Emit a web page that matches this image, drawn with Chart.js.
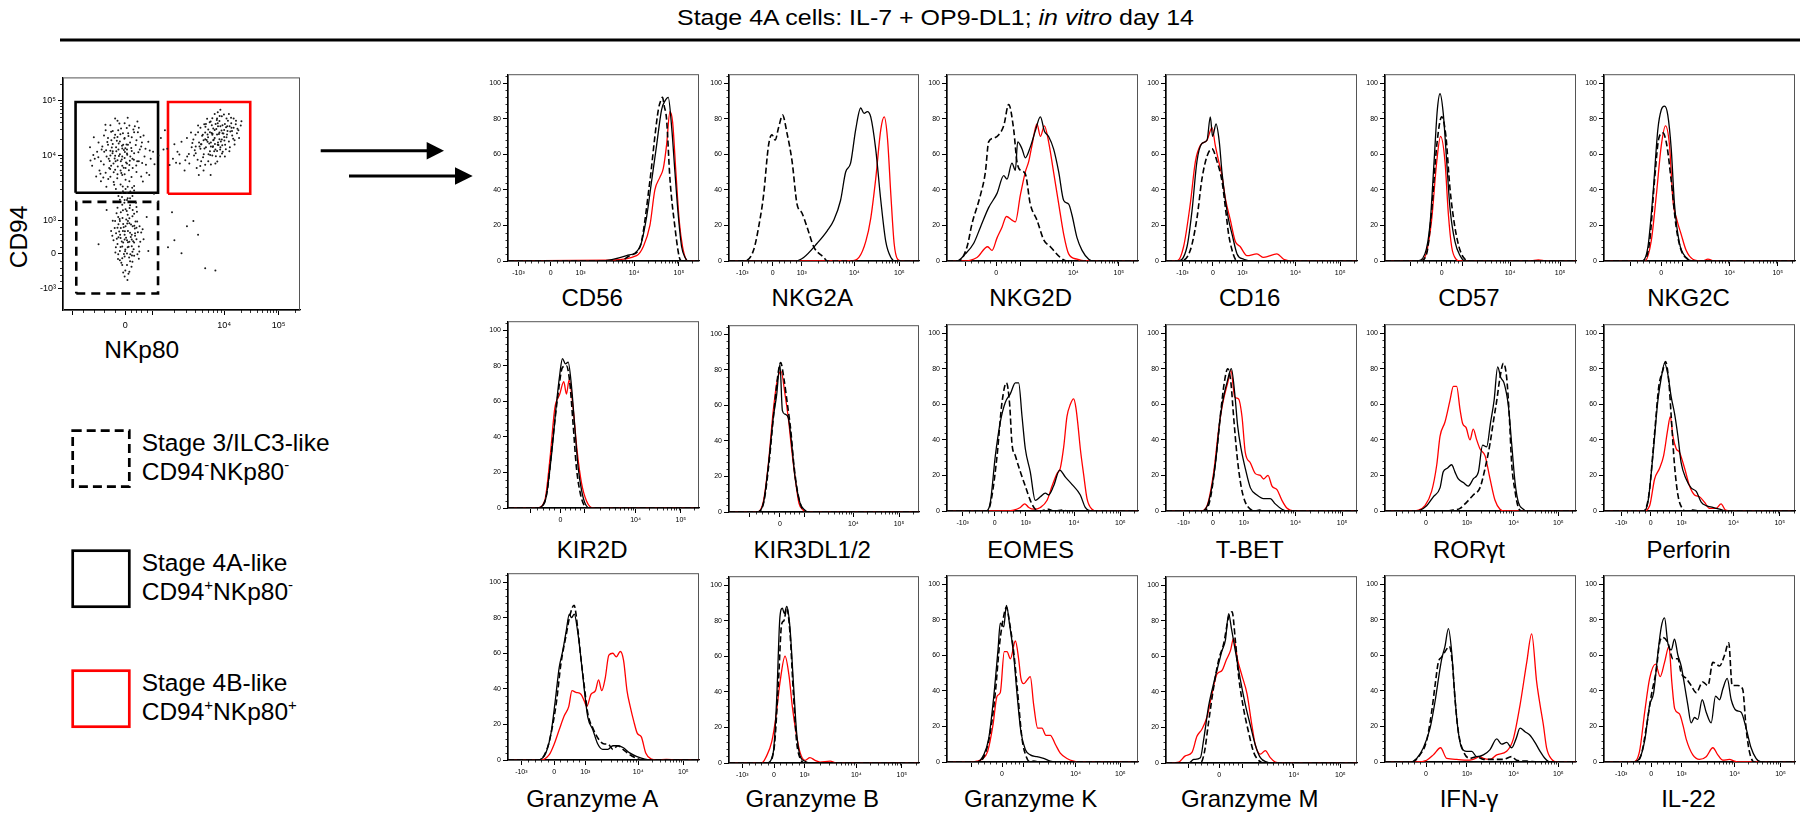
<!DOCTYPE html>
<html>
<head>
<meta charset="utf-8">
<script src="https://cdn.jsdelivr.net/npm/chart.js@4.4.0/dist/chart.umd.min.js"></script>
<style>
  body { margin: 0; width: 1800px; height: 817px; background: #fff; position: relative; overflow: hidden;
         font-family: "Liberation Sans", Arial, sans-serif; }
  canvas { position: absolute; }
  #deco { position: absolute; left: 0; top: 0; }
</style>
</head>
<body>
<svg id="deco" width="1800" height="817" font-family="Liberation Sans, Arial, sans-serif">
  <text x="935.5" y="25" text-anchor="middle" font-size="22" textLength="517" lengthAdjust="spacingAndGlyphs">Stage 4A cells: IL-7 + OP9-DL1; <tspan font-style="italic">in vitro</tspan> day 14</text>
  <rect x="60" y="38.5" width="1740" height="3" fill="#000"/>

  <!-- arrows -->
  <line x1="320.7" y1="150.7" x2="428" y2="150.7" stroke="#000" stroke-width="3"/>
  <polygon points="426.7,141.9 444,150.7 426.7,159.5" fill="#000"/>
  <line x1="349" y1="176" x2="456" y2="176" stroke="#000" stroke-width="3"/>
  <polygon points="455,167.2 472.7,176 455,184.8" fill="#000"/>

  <!-- legend -->
  <rect x="72.7" y="430.7" width="56.6" height="56" fill="none" stroke="#000" stroke-width="2.7" stroke-dasharray="9 5"/>
  <rect x="72.7" y="550.7" width="56.6" height="56" fill="none" stroke="#000" stroke-width="2.7"/>
  <rect x="72.7" y="670.7" width="56.6" height="56" fill="none" stroke="#ff0000" stroke-width="2.7"/>
  <g font-size="24.5">
    <text x="141.7" y="450.7">Stage 3/ILC3-like</text>
    <text x="141.7" y="480">CD94<tspan font-size="15" dy="-10">-</tspan><tspan dy="10">NKp80</tspan><tspan font-size="15" dy="-10">-</tspan></text>
    <text x="141.7" y="570.7">Stage 4A-like</text>
    <text x="141.7" y="600">CD94<tspan font-size="15" dy="-10">+</tspan><tspan dy="10">NKp80</tspan><tspan font-size="15" dy="-10">-</tspan></text>
    <text x="141.7" y="690.7">Stage 4B-like</text>
    <text x="141.7" y="720">CD94<tspan font-size="15" dy="-10">+</tspan><tspan dy="10">NKp80</tspan><tspan font-size="15" dy="-10">+</tspan></text>
  </g>

  <!-- scatter axis titles -->
  <text transform="translate(26.7,237) rotate(-90)" text-anchor="middle" font-size="24.5">CD94</text>
  <text x="141.7" y="358" text-anchor="middle" font-size="24.5">NKp80</text>
  <g id="panelLabels" font-size="24" text-anchor="middle"></g>
</svg>

<script>
// ---------- data ----------
const markers = ['CD56', 'NKG2A', 'NKG2D', 'CD16', 'CD57', 'NKG2C',
                 'KIR2D', 'KIR3DL1/2', 'EOMES', 'T-BET', 'RORγt', 'Perforin',
                 'Granzyme A', 'Granzyme B', 'Granzyme K', 'Granzyme M', 'IFN-γ', 'IL-22'];

// x is position across the biexponential axis (0-100), y is % of max
const cd56Dash  = [[0,0],[58.6,0],[63.8,3],[69.1,8],[74.3,45],[76.9,70],[78.7,85],[79.9,90],[80.9,92],[81.8,87],[83,80],[84.8,46],[87.4,19],[89.7,2],[90.9,0],[100,0]];
const cd56Black = [[0,0],[48.1,0],[62.1,3],[69.1,8],[72.6,25],[75.2,45],[77.8,65],[80.4,85],[82.2,90],[83.9,92],[85.7,75],[87.4,50],[89.2,25],[90.9,8],[92.7,2],[94.4,0],[100,0]];
const cd56Red   = [[0,0],[53.3,0.5],[67.3,3],[70.8,8],[74.3,20],[76.9,40],[79.5,47],[81.3,52],[83,65],[84.8,84],[86.2,78],[87.9,50],[89.7,22],[91.4,8],[93.2,1],[94.4,0],[100,0]];

const nkg2aDash  = [[0,0],[7.6,0],[12.9,6],[16.4,24],[18.2,37],[20.8,65],[22.6,71],[24.3,68],[26.1,75],[28.2,82],[30.5,72],[33.2,56],[35.8,32],[38.4,27],[41.1,19],[44.6,8],[49.9,2],[51.7,0],[100,0]];
const nkg2aBlack = [[0,0],[34.9,0],[39.3,2],[46.4,10],[51.7,17],[55.2,23],[58.7,34],[61.4,50],[64,55],[66.7,74],[69.3,86],[71.1,83],[72.8,84],[74.6,81],[77.2,63],[79.9,34],[82.5,11],[85.2,2],[87.8,0],[100,0]];
const nkg2aRed   = [[0,0],[64,0],[68.4,2],[72,11],[74.6,24],[77.2,46],[79.9,74],[81.7,81],[83.4,69],[85.2,37],[86.9,10],[88.7,1],[90.5,0],[100,0]];

const nkg2dDash  = [[0,0],[6.1,0],[10.5,8],[13.1,21],[17.5,37],[20.1,50],[21.8,67],[24.4,69],[27.1,71],[29.7,76],[32.3,88],[34.9,74],[36.6,56],[38.4,51],[41,49],[43.6,32],[47.1,23],[50.6,12],[54.1,8],[59.3,2],[62.8,0],[100,0]];
const nkg2dBlack = [[0,0],[5.2,0],[9.6,4],[14,10],[17.5,19],[21.8,30],[26.2,38],[29.7,48],[31.4,46],[34,55],[35.8,51],[37,67],[39.3,63],[41,58],[43.6,64],[46.2,73],[48.9,81],[51,73],[53.2,70],[55.8,63],[58.5,50],[61.1,34],[63.7,32],[65.4,26],[68.1,13],[70.7,6],[74.2,1],[76.8,0],[100,0]];
const nkg2dRed   = [[0,0],[8.7,0],[15.7,2],[21.3,8],[23.6,6],[26.2,13],[28.8,19],[31.1,25],[34,23],[35.8,22],[38.4,37],[41,50],[42.8,56],[44.5,65],[47.1,77],[48.9,70],[51,76],[53.2,67],[55.8,50],[58.5,32],[61.1,15],[63.7,4],[68.1,1],[72.4,0],[100,0]];

const cd16Dash  = [[0,0],[7.5,0],[12.7,6],[16.2,24],[18.8,46],[21.5,59],[24.1,63],[26.7,56],[29.3,45],[31.1,30],[32.8,15],[34.6,6],[36.3,1],[38,0],[100,0]];
const cd16Black = [[0,0],[5.8,0],[11,8],[13.6,28],[16.2,56],[18.8,66],[21.5,68],[23.2,81],[24.4,70],[26.2,77],[27.9,67],[29.3,50],[31.1,34],[32.8,23],[34.6,15],[37.2,4],[40.7,1],[45.9,0],[100,0]];
const cd16Red   = [[0,0],[5.8,0],[9.2,8],[12.7,32],[15.4,56],[18,65],[21.5,68],[24.1,75],[25.8,65],[27.6,56],[29.3,48],[31.1,35],[33.7,23],[36.3,11],[38.9,8],[42.4,3],[47.6,4],[51.1,2],[58.1,4],[61.6,1],[66.8,0],[100,0]];

const cd57Dash  = [[0,0],[18.3,0],[21.8,4],[24.4,28],[27.1,65],[29.7,81],[31.9,70],[34,41],[36.6,19],[39.3,6],[41.9,1],[43.6,0],[100,0]];
const cd57Black = [[0,0],[16.6,0],[20.9,4],[23.6,21],[25.7,56],[27.4,85],[28.8,94],[30.5,83],[32.3,56],[34,30],[36.6,11],[39.3,3],[41.9,0],[100,0]];
const cd57Red   = [[0,0],[18.3,0],[21.5,4],[24.4,23],[27.1,56],[29.1,70],[31.4,56],[33.2,26],[34.9,8],[37.2,1],[39.3,0],[75.9,0],[80.3,0.6],[84.6,0],[100,0]];

const nkg2cDash  = [[0,0],[20.4,0],[23.9,11],[26.5,46],[28.7,69],[30.8,72],[32.9,65],[35.2,45],[37.8,19],[40.4,6],[43.9,1],[45.6,0],[100,0]];
const nkg2cBlack = [[0,0],[19.5,0],[23,8],[25.6,37],[28.2,74],[30,85],[31.7,87],[33.4,82],[35.2,63],[36.9,32],[39.5,10],[43,2],[46.5,0],[100,0]];
const nkg2cRed   = [[0,0],[21.3,0],[24.7,11],[27.4,37],[30,65],[32.2,76],[34.3,65],[36.1,34],[38.2,23],[40.4,15],[43,6],[46.5,1],[51.7,0],[54.4,1],[57.8,0],[100,0]];

const kir2dDash  = [[0,0],[15.7,0],[20.1,7],[23.6,40],[26.2,64],[28.5,79],[30.6,80],[32.3,71],[34.1,47],[35.8,23],[37.9,8],[40.2,1],[42,0],[100,0]];
const kir2dBlack = [[0,0],[14.9,0],[19.2,3],[22.7,29],[25.3,58],[27.1,75],[28.5,84],[30.1,81],[31.5,82],[33.2,69],[35,45],[36.7,23],[38.5,10],[40.2,3],[42.8,0],[100,0]];
const kir2dRed   = [[0,0],[14.9,0],[19.2,4],[21.9,27],[24.5,56],[27.1,64],[29.2,71],[30.6,64],[32,72],[34.1,56],[36.2,32],[38.5,14],[41.1,4],[44.6,0],[100,0]];

const kir3dDash  = [[0,0],[14.9,0],[18.4,6],[21.2,29],[23.7,57],[26,79],[27.2,84],[28.9,75],[30.7,61],[32.5,46],[34.2,26],[36.5,9],[39.1,1],[41.2,0],[100,0]];
const kir3dBlack = [[0,0],[14.6,0],[18.1,5],[20.7,26],[23.3,53],[25.1,66],[26.8,83],[28.1,57],[29.5,55],[31.2,53],[33,38],[34.7,20],[37.4,5],[40,1],[41.8,0],[100,0]];
const kir3dRed   = [[0,0],[14.9,0],[18.1,6],[20.7,27],[23.3,57],[25.4,74],[27.4,79],[29.5,66],[31.2,53],[33,35],[34.7,20],[36.8,5],[39.1,1],[40.9,0],[100,0]];

const eomesDash  = [[0,0],[21.3,0],[23.6,9],[26.2,31],[28.8,61],[31.1,72],[32.8,60],[34,38],[35.8,31],[38.4,22],[41,14],[43.6,6],[46.2,1],[48.9,0],[53.2,1],[55.8,0],[61.1,0.5],[62.8,0],[100,0]];
const eomesBlack = [[0,0],[20.6,0],[22.7,5],[25.3,31],[27.9,50],[30.5,61],[33.2,66],[35.8,72],[37.5,72],[39.3,53],[41,35],[43.6,22],[46.2,6],[48.9,8],[51.5,10],[53.2,9],[55.8,14],[59,23],[62,19],[65.4,15],[69.8,9],[72.4,2],[75.9,0],[100,0]];
const eomesRed   = [[0,0],[29.7,0],[34.9,0.5],[38.4,2],[40.7,4],[42.8,2],[45.4,1],[48.9,2],[52.4,6],[55,14],[57.6,21],[59.3,24],[61.1,36],[62.8,53],[64.6,60],[66.3,63],[67.5,58],[68.6,48],[69.8,35],[71.6,20],[73.3,7],[75.9,1],[78.5,0],[100,0]];

const tbetDash  = [[0,0],[19.7,0],[23.2,7],[26.7,35],[28.8,57],[30.5,72],[32.3,80],[34,72],[35.4,53],[37.2,31],[39.3,14],[41.5,5],[44.2,1],[46.8,0],[49,0.5],[51.1,0],[100,0]];
const tbetBlack = [[0,0],[18.8,0],[22.3,5],[25.8,26],[28.4,53],[30.5,66],[31.9,72],[34.2,80],[36,66],[37.5,48],[39.3,35],[41.5,24],[44.2,13],[47.6,9],[51.1,7],[54.6,7],[57.2,4],[60.7,1],[63.4,0],[100,0]];
const tbetRed   = [[0,0],[18,0],[21.5,3],[25,22],[27.6,46],[29.8,61],[32.3,72],[34,79],[36,64],[38,63],[39.8,53],[41.5,33],[44.2,27],[46.8,21],[49.4,20],[51.1,18],[53.4,20],[55.5,14],[58.1,12],[60.7,6],[63.4,1.5],[66.8,0],[100,0]];

const rorgtDash  = [[0,0],[32.3,0],[35.8,0.5],[39.3,1.5],[42.8,5],[46.2,9],[49.7,13],[52.4,24],[55,38],[56.7,50],[58.5,62],[60.2,75],[62,83],[63.7,75],[65.1,53],[66.3,27],[68.1,11],[69.8,2],[71.6,0],[100,0]];
const rorgtBlack = [[0,0],[16.6,0],[21.8,3],[25.3,8],[28.8,13],[30.5,22],[32.6,24],[34.9,26],[36.6,22],[38.4,18],[41,16],[43.6,14],[46.2,18],[48.9,22],[51.1,37],[53.2,36],[55.3,50],[57.1,62],[59,81],[60.6,75],[62.3,72],[64.6,59],[66.3,38],[68.1,16],[69.8,5],[72.4,1],[74.2,0],[100,0]];
const rorgtRed   = [[0,0],[11.3,0],[17.5,0.5],[20.9,3],[24.4,11],[27.1,26],[28.8,42],[31.4,50],[34,62],[35.8,70],[37.5,70],[39.3,57],[40.7,49],[42.4,47],[44.5,40],[46.2,46],[48,40],[49.7,35],[52.4,31],[55,18],[57.6,6],[60.2,1],[62.8,0],[100,0]];

const perfDash  = [[0,0],[20.7,0],[23.5,9],[26.5,44],[28.7,70],[30.8,79],[32.2,84],[34,72],[35.2,53],[36.9,26],[38.7,9],[40.9,1.5],[43,0],[46.5,0.5],[50,0],[100,0]];
const perfBlack = [[0,0],[20.4,0],[23,5],[25.6,31],[28.2,62],[30,75],[31.7,83],[33.4,77],[35.2,64],[36.9,55],[38.7,42],[40.4,27],[43,18],[45.6,13],[48.3,11],[50.9,5],[53.5,3],[57,2],[60.5,1],[63.9,0],[100,0]];
const perfRed   = [[0,0],[20.7,0],[23.9,3],[26.5,18],[29.1,24],[31.2,31],[33.4,46],[34.7,53],[36.1,42],[37.8,35],[39.5,33],[42.2,24],[44.8,14],[47.4,9],[50,8],[52.6,5],[55.2,1.5],[58.7,1.5],[61.3,4],[63.6,0.5],[66.6,0],[100,0]];

const gzmaDash  = [[0,0],[16.3,0],[20.7,7],[23.3,19],[25.4,33],[27.7,54],[30.4,70],[32.6,82],[34.6,87],[36.5,74],[38.2,57],[40,41],[41.8,26],[44.4,18],[47.9,11],[50.5,9],[52.3,9],[54.9,6],[57.5,8],[60.2,6],[63.7,3],[67.2,1],[70.7,0],[100,0]];
const gzmaBlack = [[0,0],[15.4,0],[19.8,4],[22.5,15],[24.7,33],[26.8,52],[28.6,61],[30.4,72],[32.1,82],[33.3,80],[34.7,82],[36.5,72],[38.2,57],[40,39],[41.8,24],[44.4,17],[47,9],[49.6,6],[52.3,6],[54.9,8],[57.5,8],[60.2,7],[63.7,4],[67.2,2],[71.6,0.5],[76,0],[100,0]];
const gzmaRed   = [[0,0],[17.2,0],[21.6,3],[24.2,9],[26.8,17],[29.5,25],[31.8,30],[33.5,39],[35.6,38],[38.2,37],[40,33],[41.2,30],[43.5,37],[45.8,39],[47.4,45],[49.1,39],[50.9,46],[52.8,59],[54.9,60],[56.7,58],[58.8,61],[60.5,56],[62.3,39],[64,30],[65.8,22],[67.7,15],[69.8,13],[72.1,4],[75.1,0.5],[77.7,0],[83,0.3],[88.2,0],[100,0]];

const gzmbDash  = [[0,0],[20.4,0],[23.7,8],[26,45],[27.7,78],[28.9,80],[30.4,87],[32.1,73],[33.9,39],[35.6,12],[37.7,2],[40,0],[100,0]];
const gzmbBlack = [[0,0],[19.8,0],[23.3,6],[25.1,36],[26.8,82],[28.1,87],[29.1,84],[30.4,88],[32.1,76],[33.9,45],[35.6,17],[37.4,4],[40,1],[42.6,0],[100,0]];
const gzmbRed   = [[0,0],[17.2,0],[19.8,4],[22.5,12],[24.7,26],[26.8,45],[29.5,60],[31.6,49],[33.3,32],[35.3,17],[37.4,6],[40,1.5],[42.6,3],[45.3,1.5],[47.9,0.5],[53.2,1],[56.7,0],[100,0]];

const gzmkDash  = [[0,0],[16.6,0],[20.1,5],[22.7,17],[25.3,39],[27.6,67],[29.7,82],[31.1,87],[32.8,78],[34.9,62],[37,39],[39.3,13],[41.5,3],[43.6,0],[45.4,0.5],[48,0],[100,0]];
const gzmkBlack = [[0,0],[15.7,0],[19.2,4],[21.8,13],[24.4,36],[26.7,63],[27.9,78],[29.7,76],[31.1,88],[32.8,77],[34.9,60],[36.6,39],[38.7,17],[41,7],[43.6,4],[47.1,3],[50.6,2],[54.1,0.5],[57.6,0],[100,0]];
const gzmkRed   = [[0,0],[12.2,0],[15.7,0.5],[18.3,1.5],[21.3,6],[24.1,21],[26.2,37],[27.9,39],[30,62],[31.4,62],[33.2,58],[35.8,68],[37.5,58],[38.7,47],[40.1,44],[41.9,46],[43.6,48],[45.4,32],[47.5,19],[49.7,19],[51.8,15],[54.1,15],[56.7,10],[59.3,5],[62.8,2],[66.3,0.5],[69.8,0],[100,0]];

const gzmmDash  = [[0,0],[18,0],[20.1,6],[22.3,23],[25,43],[27.6,58],[30.2,67],[32.8,82],[34.6,85],[36.3,69],[38,49],[40.7,30],[43.3,17],[45.9,6],[48.5,1.5],[51.1,0],[100,0]];
const gzmmBlack = [[0,0],[11.9,0],[14.5,2],[18,3],[19.7,13],[22.3,32],[25,45],[27.6,56],[29.3,63],[31.1,69],[32.8,84],[34.2,76],[36.3,63],[38.9,47],[41.5,33],[44.2,21],[46.8,10],[49.4,3],[52.9,0.5],[55.5,0],[100,0]];
const gzmmRed   = [[0,0],[1.4,0],[6.6,0.5],[10.1,4],[13.6,6],[16.2,15],[18.8,19],[21.5,26],[24.1,39],[26.7,50],[29.3,52],[31.6,58],[33.7,63],[35.4,70],[37.5,58],[39.8,49],[42.4,39],[45,21],[46.8,10],[49.4,5],[52,7],[54.6,3],[57.2,0.5],[59.9,0],[100,0]];

const ifngDash  = [[0,0],[14,0],[18.3,4],[21.8,12],[24.4,28],[26.2,43],[27.9,56],[29.7,59],[31.4,62],[33.7,65],[35.4,54],[36.6,36],[38.4,17],[41,6],[44.5,2],[48,3],[51.5,1.5],[56.7,1.5],[62,1.5],[66.3,3],[68.9,1],[74.2,0.5],[81.2,0],[100,0]];
const ifngBlack = [[0,0],[13.1,0],[16.6,2],[20.1,8],[23.6,19],[26.2,34],[28.3,49],[29.7,58],[31.4,65],[33.2,75],[34.9,62],[36.3,41],[37.9,21],[40.1,8],[42.8,6],[45.4,6],[48,3],[51.5,4],[55,7],[58.5,13],[61.1,10],[63.7,11],[66.3,8],[68.6,13],[70.7,19],[73.3,17],[75.9,15],[78.5,11],[81.2,6],[83.8,2],[86.4,0],[100,0]];
const ifngRed   = [[0,0],[16.6,0],[21.8,1],[25.3,4],[29.1,8],[32.3,2],[37.5,1.5],[42.8,1],[46.2,1.5],[49.7,3],[51.5,2],[55,1.5],[58.5,4],[63.7,6],[67.2,13],[70.7,32],[74.2,56],[76.8,72],[79.4,45],[81.2,32],[82.9,21],[84.6,8],[87.3,1.5],[89.9,0],[100,0]];

const il22Dash  = [[0,0],[16,0],[19.5,4],[22.1,19],[24.7,37],[27.4,52],[29.1,67],[30.8,70],[33.4,67],[36.1,58],[38.7,58],[40.4,50],[43,47],[45.6,43],[48.3,39],[51.7,45],[54.4,43],[57,56],[60.5,54],[63.1,60],[65.3,67],[67.1,43],[70,43],[72.6,41],[74.4,19],[76.1,6],[78.7,0],[100,0]];
const il22Black = [[0,0],[15.2,0],[18.6,2],[21.3,12],[23.9,32],[26,39],[28.2,61],[30,76],[31.7,81],[33.4,67],[35.2,63],[36.9,69],[38.7,60],[40.4,54],[42.2,43],[43.9,32],[45.6,22],[47.4,25],[49.1,24],[51.4,35],[53.5,28],[56.1,22],[58.4,37],[60.5,35],[62.2,41],[64.5,47],[66.6,35],[69.2,29],[71.8,28],[74.4,19],[77,8],[79.6,2],[82.2,0],[100,0]];
const il22Red   = [[0,0],[15.2,0],[18.6,6],[21.3,28],[23.9,47],[27,55],[29.4,48],[31.7,56],[34,65],[35.5,45],[37,30],[39.5,27],[41.5,20],[43,13],[46.5,4],[50,1.5],[53.5,3],[57,8],[59.6,4],[62.2,1],[65.7,1.5],[68.3,0.5],[70.9,0],[100,0]];

// axis tick positions (-10^3, 0, 10^3, 10^4, 10^5) for each panel
const fullLabels  = ['-10³', '0', '10³', '10⁴', '10⁵'];
const noDecLabels = ['', '0', '', '10⁴', '10⁵'];
const noNegLabels = ['', '0', '10³', '10⁴', '10⁵'];
const yTicks = [0, 20, 40, 60, 80, 100];
const tickPos = [
  [5.5, 22.4, 38, 66, 89.5], [7, 23, 38.3, 66, 89.7], [9.6, 25.7, 38.4, 66.2, 90], [8.6, 24.6, 40, 67.8, 91.2], [13.5, 29.7, 40.5, 65.5, 91.7], [14, 30, 41, 65.8, 91],
  [12, 27.4, 40, 66.8, 90.5], [11, 26.8, 39.5, 65.5, 89.5], [8.2, 25, 41.2, 66.5, 90.8], [9.2, 24.6, 40.8, 67.8, 92.2], [6, 21.5, 42.9, 67.3, 90.8], [9, 24.4, 40.6, 67.8, 92],
  [7, 24.2, 40.5, 68.2, 91.8], [7, 23.7, 39.8, 67, 91], [12.8, 28.8, 40, 67.3, 90.8], [12, 27.9, 40, 67, 91.3], [6, 21.5, 42.9, 67.3, 90.8], [9, 24.7, 40.6, 68.4, 92.4]
];
const tickLabels = [
  fullLabels, fullLabels, noDecLabels, fullLabels, noDecLabels, noDecLabels,
  noDecLabels, noDecLabels, fullLabels, fullLabels, noNegLabels, fullLabels,
  fullLabels, fullLabels, noDecLabels, noDecLabels, noNegLabels, fullLabels
];
const dashSeries  = [cd56Dash, nkg2aDash, nkg2dDash, cd16Dash, cd57Dash, nkg2cDash, kir2dDash, kir3dDash, eomesDash, tbetDash, rorgtDash, perfDash, gzmaDash, gzmbDash, gzmkDash, gzmmDash, ifngDash, il22Dash];
const blackSeries = [cd56Black, nkg2aBlack, nkg2dBlack, cd16Black, cd57Black, nkg2cBlack, kir2dBlack, kir3dBlack, eomesBlack, tbetBlack, rorgtBlack, perfBlack, gzmaBlack, gzmbBlack, gzmkBlack, gzmmBlack, ifngBlack, il22Black];
const redSeries   = [cd56Red, nkg2aRed, nkg2dRed, cd16Red, cd57Red, nkg2cRed, kir2dRed, kir3dRed, eomesRed, tbetRed, rorgtRed, perfRed, gzmaRed, gzmbRed, gzmkRed, gzmmRed, ifngRed, il22Red];

// gating plot: NKp80 (x) vs CD94 (y), axis positions 0-100
const scatterXTicks = [4, 26.3, 37.6, 68, 91];
const scatterXLabels = ['', '0', '', '10⁴', '10⁵'];
const scatterYTicks = [9.3, 24.2, 38.4, 66.5, 90.1];
const cellsStage4A = [
  [24,67],[22.4,70],[26,65.3],[20,68.5],[28.3,72],[25,62],[18.4,66],[23,74.4],[27,69],[21.3,63],
  [30,67.4],[19,71],[24.5,78],[26,58.4],[16,64],[29.4,61],[22,60.3],[31,73],[17.3,75],[25.4,71],
  [23,64.4],[27.5,76],[20,57.3],[32,64],[14.4,68],[26.3,69.5],[21,77],[28,55.4],[24.3,54],[33,70.3],
  [15,72],[19.5,61],[30.3,79],[22,66.3],[25,66],[29,68.4],[18,59],[34.4,66],[12.3,62],[23,81.4],
  [27,63],[20.4,73],[31,59.3],[16.3,69],[26,74],[24,72.4],[21.4,55],[35,62.4],[17,57],[28.4,66],
  [13,74.3],[30,76.4],[22.3,52],[26,80.3],[19.3,65],[32.4,69],[25,58],[36,72.3],[20,79.4],[23.4,69],
  [29,74.3],[15.4,60],[33,57.4],[27.3,53],[18,77.3],[24.4,64],[21,68.3],[37,65],[26.4,61],[22,75.3],
  [11.4,70],[31.3,64],[28,79.3],[16,55.4],[34,75],[25.3,76],[20.3,62],[30,53.3],[23,58.4],[27.4,71],
  [19,74],[35.3,59],[14,57.4],[32,78.3],[24.3,60],[21,71.4],[38,68],[26.4,56],[17.4,68],[29.3,65],
  [22,82.3],[13.4,65],[33.3,72],[27,67.3],[18.3,53],[36.4,58],[25,69.4],[20,66.4],[31.4,81],[28,62.3],
  [25.3,51],[27,50.3],[23.4,49],[28.3,48],[30,51.4],[26,47.3],
  [23.6,66.2],[25.7,68.8],[21.8,65.1],[27.1,66.7],[24.9,70.6],[22.7,72.8],[26.6,63.4],[20.6,69.9],[28.8,69.7],[23.1,61.7],
  [25.9,73.6],[19.7,64.1],[29.9,64.6],[24.2,75.6],[21.4,59.2],[27.8,60.1],[18.7,72.2],[30.7,70.9],[22.9,56.6],[26.9,78.2],
  [17.2,62.6],[31.8,67.8],[24.6,58.9],[20.3,76.6],[28.9,57.2],[16.6,70.3],[33.4,63.2],[23.8,80.2],[19.1,56.3],[29.7,77.6],
  [14.9,65.7],[34.8,69.3],[22.2,63.9],[25.6,61.2],[27.6,74.8],[20.9,67.4],[23.5,71.6],[26.1,67.9],[21.7,74.1],[28.2,64.2],
  [18.2,68.7],[30.9,62.1],[24.8,64.7],[22.5,68.2],[26.8,71.2],[19.9,60.6],[32.7,74.4],[15.8,58.6],[36.6,68.6],[12.8,66.6],
  [25.2,53.1],[29.2,52.6],[21.6,53.8],[33.7,55.2],[17.9,79.6],[27.3,82.7],[38.6,62.7],[11.6,64.3],[31.6,76.4],[23.3,77.3]
];
const cellsStage4B = [
  [64,74],[62.4,72],[66,76.3],[60.3,70],[68,77.4],[65.3,71],[58,69.3],[63.4,78],[67,73.3],[61,75.4],
  [70.3,79],[56,67.4],[64.4,80],[69,74.3],[59.3,73],[66.4,70],[62,68.3],[72,78.4],[57.4,72],[65,82.3],
  [63,66.4],[68.3,80],[60,76.3],[71.4,75],[54.3,70],[66,73.4],[61.3,64],[67,83.3],[64.3,69],[73,81.4],
  [52.4,66],[58.3,64],[69.4,77],[63,75.3],[65.4,79],[70,72.4],[55,73.3],[62.3,81],[67.4,68],[60,62.4],
  [74,77.3],[57,76.4],[66.3,66],[64,84.3],[59.4,67],[71,80.3],[53.3,63],[68.4,71],[61,72.3],[65,75.4],
  [48.3,68],[72.4,73],[63.3,70.4],[56.4,61],[69,82.3],[58,78.4],[66.4,79],[50,72.3],[62,76.4],[67.3,76],
  [46.4,65],[70,84.3],[64.3,63],[55.3,66.4],[73.4,76],[60.3,80],[65,68.4],[57.3,58],[68,74.4],[62.4,70.3],
  [75,79.3],[51.3,60],[66,81.3],[59,75.3],[63.4,73],[70.4,70],[47,71.3],[67.3,79.4],[54,76.3],[61.4,67],
  [71.3,77],[58.4,71.3],[64,77.4],[49.3,63],[65.3,85],[60,73.4],[69.3,79],[56,70.3],[63,82.4],[66.3,69],
  [44,69.3],[52.3,74],[72,82.3],[59.3,60],[68.3,66],[57,79.3],[62.3,58],[74.3,74],[45,62.3],[65.4,72],
  [41.3,74],[42.4,69],[40.3,66.4],[43,77.3],
  [63.6,73.2],[65.8,75.7],[61.7,71.6],[67.7,75.9],[64.7,77.8],[62.7,76.1],[66.6,72.4],[60.6,73.1],[68.8,78.6],[63.2,70.1],
  [65.3,80.3],[59.7,69.4],[70.6,76.7],[64.1,71.4],[61.3,77.6],[67.2,70.8],[58.7,74.9],[69.6,81.4],[62.1,66.6],[66.1,83.4],
  [57.6,70.3],[71.8,73.6],[63.8,68.2],[60.1,78.8],[68.1,72.9],[55.6,68.7],[72.9,79.9],[64.9,81.7],[59.1,65.7],[67.1,67.3],
  [62.8,79.4],[66.9,77.2],[61.2,74.3],[65.6,70.9],[69.2,75.4],[63.1,75.8],[58.2,71.3],[64.5,66.1],[70.9,82.6],[56.8,64.6],
  [73.6,77.9],[54.6,71.8],[60.8,82.2],[68.7,69.1],[53.1,67.1],[66.4,86.1],[62.4,62.6],[75.3,81.1],[51.6,64.4],[57.9,61.9],
  [49.1,66.8],[47.7,63.3],[72.4,71.2],[59.6,79.9],[65.1,63.8],[70.2,68.3],[61.9,80.7],[55.9,75.3],[67.9,84.1],[71.1,78.3]
];
const cellsStage3 = [
  [27,30],[25.3,34],[29,27.4],[24,38.3],[28.4,24],[26,32.3],[30.3,35],[23,28.4],[27.3,41],[25,22.3],
  [31,30.4],[22.4,33],[28,37.3],[26.3,26],[29.4,43],[24.3,31],[32,27.3],[27,19.4],[23.3,40],[30,23.3],
  [26.4,36],[28,29.3],[21.3,30],[25,45.3],[31.3,38],[27.4,34],[24,25.4],[29,32.4],[22,38.3],[26.3,17],
  [30,41.4],[28.3,21],[25.4,29],[33,33.3],[23,35.4],[27,47.3],[29.3,25],[24.4,42],[26,30.3],[31.4,24],
  [20.3,34],[28,39.4],[25,19.3],[32.3,36],[27.3,27],[23.4,31.3],[30,29],[26.4,43.3],[24,21.4],[29.4,36],
  [28,16.4],[22.3,27],[31,44.3],[25.4,37],[27,24.3],[34,30.4],[23,44],[29.3,40.3],[26,23],[21,38.4],
  [30.4,33],[25,27.3],[28.3,45],[24.4,35.3],[32,22],[27.4,38.3],[26,14.4],[29,30.3],[23.3,24],[31,35.4],
  [27.3,48],[25,50.3],[29.3,49],[26.4,52],[24,47.4],
  [26.6,31.1],[28.3,33.2],[24.8,29.4],[27.7,27.2],[25.6,35.6],[29.6,29.6],[23.7,33.7],[27.1,37.2],[26.2,25.3],[30.4,31.9],
  [24.3,27.1],[28.7,36.8],[25.1,39.6],[29.8,26.1],[22.7,30.6],[27.9,22.6],[31.6,33.4],[23.4,36.9],[26.9,42.6],[30.6,38.1],
  [24.6,20.3],[28.9,18.6],[21.8,35.2],[32.6,29.3],[25.9,46.1],[27.6,15.6],[22.6,41.6],[31.2,42.2],[29.1,23.4],[26.1,33.9],
  [27.4,29.1],[24.1,32.3],[28.6,31.4],[25.7,24.1],[30.1,36.2],[23.9,39.1],[26.7,38.9],[29.3,20.7],[33.6,34.7],[20.8,31.9],
  [25.3,42.9],[28.1,43.9],[32.2,25.2],[22.1,24.7],[27.2,12.9],[25.4,16.1],[30.8,46.1],[24.9,48.6],[28.4,50.9],[23.2,21.9]
];
const cellsOther = [[47,30],[52.3,36],[55,38.3],[60,18],[64.3,17],[50,24.4],[46,42],[44.3,27],[57,32.3],[38.4,50],[40,46.3],[35.3,40],[15,28.3],[18.4,43],[36,25.4]];
const gate3  = [[5.6,7.1],[40.1,7.1],[40.1,46.5],[5.6,46.5],[5.6,7.1]];
const gate4A = [[5.3,50.4],[40.1,50.4],[40.1,89.4],[5.3,89.4],[5.3,50.4]];
const gate4B = [[44.3,50],[79,50],[79,89.4],[44.3,89.4],[44.3,50]];

// ---------- layout ----------
const colLeft  = [508.3, 729, 946.7, 1165.7, 1385, 1604.3];
const colWidth = [190.7, 189.5, 191, 191, 191, 191.4];
const rowTop   = [[71, 71, 71, 71, 71, 71], [318, 322, 321, 321, 321, 321], [570, 573, 572, 572.5, 572, 572]];
const labelBase = [306, 557.7, 807];
const boxH = 190;

Chart.defaults.font.family = '"Liberation Sans", Arial, sans-serif';
Chart.defaults.color = '#000';

// frame round the plot area, and small minor ticks on both axes
const axisDecor = {
  id: 'axisDecor',
  beforeDatasetsDraw(chart) {
    const { ctx, chartArea: a } = chart;
    ctx.save();
    ctx.strokeStyle = '#555';
    ctx.lineWidth = 1;
    ctx.strokeRect(a.left + 0.5, a.top + 0.5, a.right - a.left - 1, a.bottom - a.top);
    ctx.restore();
  },
  afterDraw(chart, args, o) {
    const { ctx, chartArea: a, scales } = chart;
    ctx.save();
    ctx.strokeStyle = '#000';
    ctx.lineWidth = 0.8;
    ctx.beginPath();
    (o.x || []).forEach(v => {
      const px = Math.round(scales.x.getPixelForValue(v)) + 0.5;
      ctx.moveTo(px, a.bottom); ctx.lineTo(px, a.bottom + o.len);
    });
    (o.y || []).forEach(v => {
      const py = Math.round(scales.y.getPixelForValue(v)) + 0.5;
      ctx.moveTo(a.left - o.len, py); ctx.lineTo(a.left, py);
    });
    ctx.stroke();
    ctx.restore();
  }
};

// minor tick spots between the major ticks of a biexponential axis
function minorTicks(p) {
  const out = [];
  for (let i = 0; i < p.length - 1; i++) {
    const a = p[i], b = p[i + 1];
    if (i >= 2) { for (let m = 2; m < 10; m++) out.push(a + (b - a) * Math.log10(m)); }
    else { for (let k = 1; k < 5; k++) out.push(a + (b - a) * k / 5); }
  }
  const a = p[3], b = p[4];
  for (let m = 2; m < 10; m++) { const v = b + (b - a) * Math.log10(m); if (v < 100) out.push(v); }
  return out;
}
const yMinor = [];
for (let v = 4; v < 105; v += 4) if (v % 20) yMinor.push(v);

function xAxis(pos, labs, size, pad, h) {
  return {
    type: 'linear', min: 0, max: 100, bounds: 'data',
    afterFit: s => { s.height = h; },
    afterBuildTicks: s => { s.ticks = pos.map(v => ({ value: v })); },
    ticks: { autoSkip: false, maxRotation: 0, font: { size: size }, padding: pad, callback: (v, i) => labs[i] },
    grid: { drawOnChartArea: false, tickLength: 5, tickColor: '#000', tickWidth: 1 },
    border: { color: '#000', width: 1.3 }
  };
}
function yAxis(pos, labs, max, size, w) {
  return {
    type: 'linear', min: 0, max: max, bounds: 'data',
    afterFit: s => { s.width = w; },
    afterBuildTicks: s => { s.ticks = pos.map(v => ({ value: v })); },
    ticks: { autoSkip: false, font: { size: size }, padding: 2, callback: (v, i) => labs[i] },
    grid: { drawOnChartArea: false, tickLength: 5, tickColor: '#000', tickWidth: 1 },
    border: { color: '#000', width: 1.3 }
  };
}

function addCanvas(left, top, w, h) {
  const c = document.createElement('canvas');
  c.width = Math.round(w); c.height = Math.round(h);
  c.style.left = Math.round(left) + 'px';
  c.style.top = Math.round(top) + 'px';
  document.body.appendChild(c);
  return c;
}

const toXY = arr => arr.map(([x, y]) => ({ x, y }));
function line(arr, color, width, dash) {
  return { data: toXY(arr), borderColor: color, borderWidth: width, borderDash: dash || [],
           pointRadius: 0, fill: false, cubicInterpolationMode: 'monotone' };
}

// ---------- histograms ----------
const labelsG = document.getElementById('panelLabels');
markers.forEach((name, i) => {
  const row = Math.floor(i / 6), col = i % 6;
  const L = colLeft[col], T = rowTop[row][col], W = colWidth[col];
  const c = addCanvas(L - 28, T - 3, W + 31, boxH + 25);
  new Chart(c, {
    type: 'line',
    data: { datasets: [
      line(dashSeries[i], '#000', 1.6, [6, 3]),
      line(blackSeries[i], '#000', 1.3),
      line(redSeries[i], '#ff0000', 1.3)
    ] },
    options: {
      responsive: false, animation: false, events: [],
      layout: { padding: { top: 3, right: 3, left: 0, bottom: 0 } },
      plugins: { legend: { display: false }, tooltip: { enabled: false },
                 axisDecor: { x: minorTicks(tickPos[i]), y: yMinor, len: 2.5 } },
      scales: {
        x: xAxis(tickPos[i], tickLabels[i], 7, 3, 22),
        y: yAxis(yTicks, yTicks.map(String), 105, 7, 28)
      }
    },
    plugins: [axisDecor]
  });
  const t = document.createElementNS('http://www.w3.org/2000/svg', 'text');
  t.setAttribute('x', L + W / 2 - 11.5);
  t.setAttribute('y', labelBase[row]);
  t.textContent = name;
  labelsG.appendChild(t);
});

// ---------- gating plot ----------
const sc = addCanvas(63.3 - 34, 73.3 - 3, 238.4 + 37, 236.7 + 31);
const dots = arr => ({ data: toXY(arr), pointRadius: 1, pointBackgroundColor: '#1a1a1a', pointBorderWidth: 0, showLine: false });
const gate = (arr, color, dash) => ({ data: toXY(arr), showLine: true, pointRadius: 0, borderColor: color, borderWidth: 2.6, borderDash: dash || [], fill: false });
new Chart(sc, {
  type: 'scatter',
  data: { datasets: [
    dots(cellsStage4A), dots(cellsStage4B), dots(cellsStage3), dots(cellsOther),
    gate(gate4A, '#000'), gate(gate4B, '#ff0000'), gate(gate3, '#000', [9, 6])
  ] },
  options: {
    responsive: false, animation: false, events: [],
    layout: { padding: { top: 3, right: 3, left: 0, bottom: 0 } },
    plugins: { legend: { display: false }, tooltip: { enabled: false },
               axisDecor: { x: minorTicks(scatterXTicks), y: minorTicks(scatterYTicks), len: 3 } },
    scales: {
      x: xAxis(scatterXTicks, scatterXLabels, 9, 5, 28),
      y: yAxis(scatterYTicks, fullLabels, 100, 9, 34)
    }
  },
  plugins: [axisDecor]
});
</script>
</body>
</html>
